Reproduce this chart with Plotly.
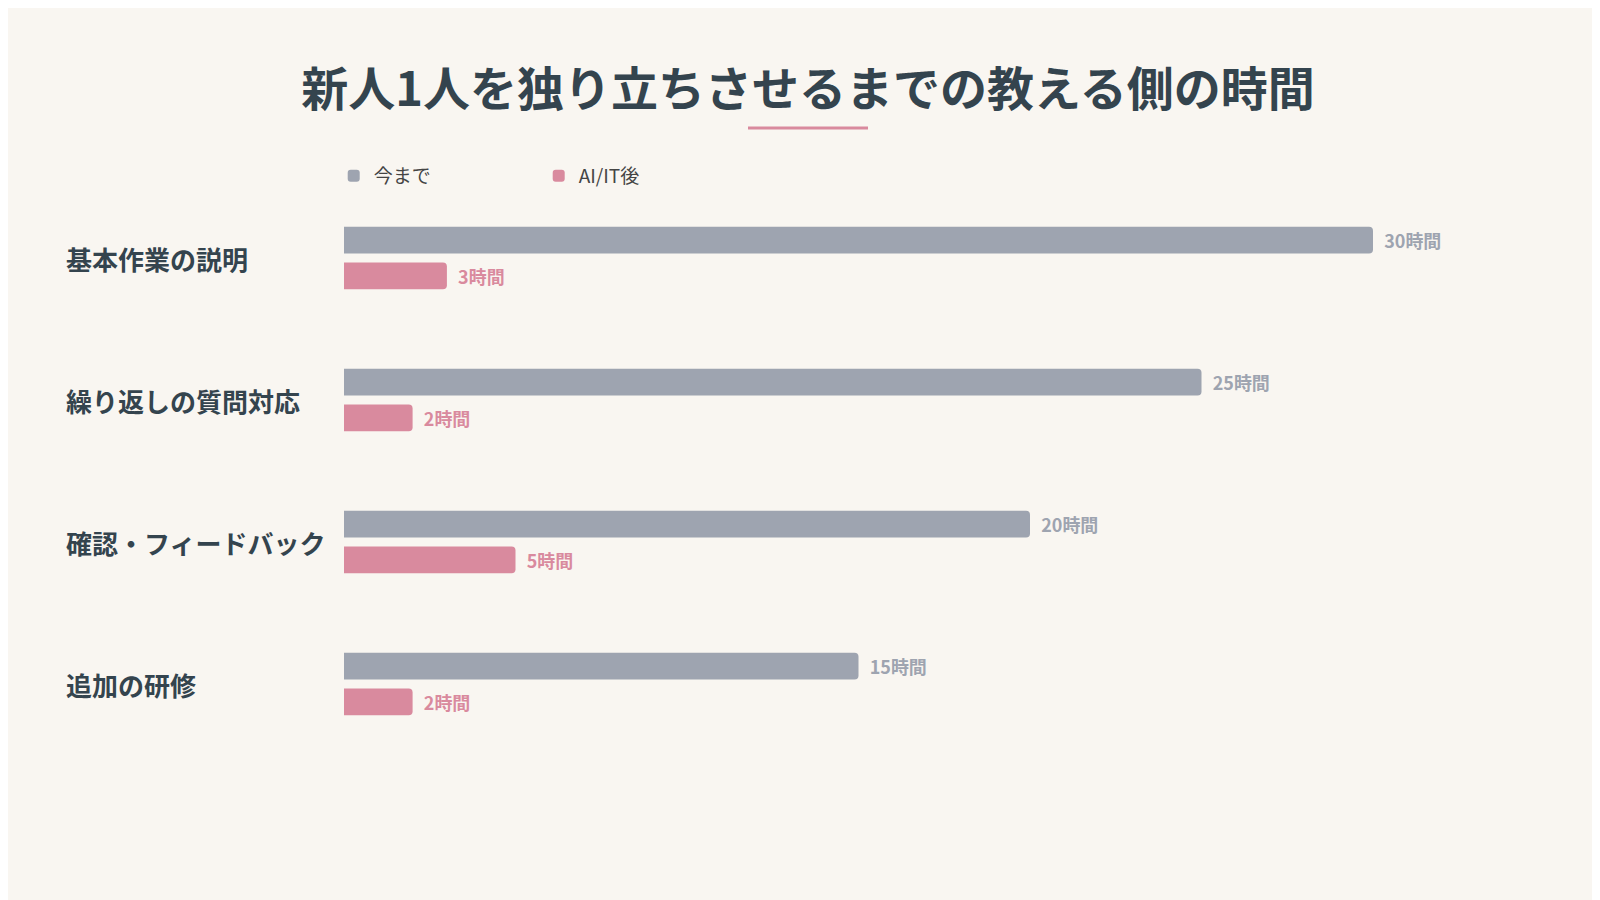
import plotly.graph_objects as go

categories = ["基本作業の説明", "繰り返しの質問対応", "確認・フィードバック", "追加の研修"]
before = [30, 25, 20, 15]
after = [3, 2, 5, 2]
series_names = ["今まで", "AI/IT後"]
title = "新人1人を独り立ちさせるまでの教える側の時間"

GRAY = "#9ea4b0"
PINK = "#d98a9e"
DARK = "#34444e"
FONT = "Noto Sans CJK JP"

L, T, R, B = 336, 179, 235, 153
PW = 1600 - L - R
PH = 900 - T - B

fig = go.Figure()
for name, vals, col in [(series_names[0], before, GRAY), (series_names[1], after, PINK)]:
    fig.add_trace(go.Bar(
        y=categories, x=vals, name=name, orientation="h",
        marker=dict(color=col, cornerradius=4, line=dict(width=0)),
        text=[f"  {v}時間" for v in vals], textposition="outside",
        textfont=dict(color=col, size=23, family=FONT, weight="bold"),
        cliponaxis=False,
    ))

ann = [dict(text=f"<b>{c}</b>", x=-(L - 56) / PW, y=c, xref="paper", yref="y",
            xanchor="left", showarrow=False, font=dict(size=26, color=DARK, family=FONT))
       for c in categories]

fig.update_layout(
    width=1600, height=900,
    paper_bgcolor="#f9f6f1", plot_bgcolor="#f9f6f1",
    barmode="group", bargap=0.496, bargroupgap=0.257,
    margin=dict(l=L, r=R, t=T, b=B),
    title=dict(text=f"<b>{title}</b>", x=0.5, xanchor="center", y=1 - 82 / 900, yanchor="middle",
               font=dict(size=47, color=DARK, family=FONT)),
    xaxis=dict(range=[0, 30], visible=False),
    yaxis=dict(autorange="reversed", showticklabels=False, showgrid=False, zeroline=False),
    legend=dict(orientation="h", x=-0.01, y=1 + (T - 168) / PH, xanchor="left", yanchor="middle",
                font=dict(size=19, color="#444", family=FONT), bgcolor="rgba(0,0,0,0)",
                itemwidth=30, traceorder="normal", entrywidth=160),
    font=dict(family=FONT),
    annotations=ann,
    shapes=[dict(type="line", xref="paper", yref="paper",
                 x0=(800 - 60 - L) / PW, x1=(800 + 60 - L) / PW,
                 y0=1 + (T - 120) / PH, y1=1 + (T - 120) / PH,
                 line=dict(color=PINK, width=3))],
    showlegend=True,
)
fig.write_html("out.html")
